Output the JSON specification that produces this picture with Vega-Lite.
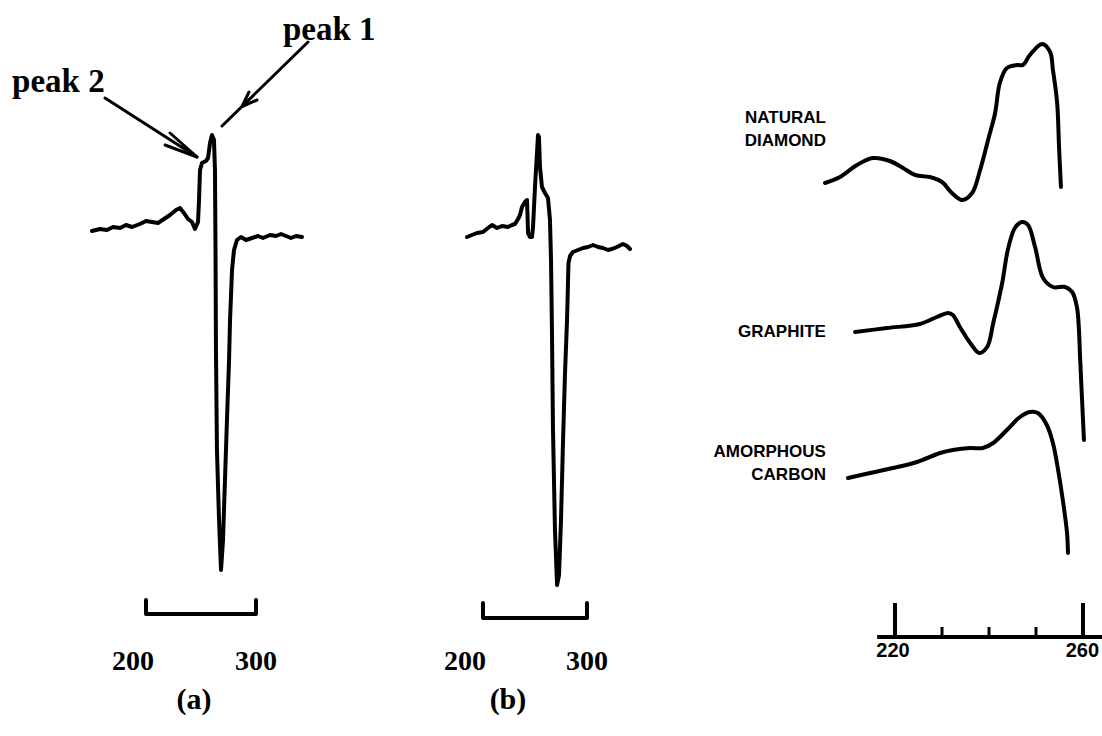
{
  "$schema": "https://vega.github.io/schema/vega-lite/v6.json",
  "padding": 0,
  "spacing": 0,
  "background": "white",
  "config": {"view": {"stroke": null}, "line": {"strokeCap": "round", "strokeJoin": "round"}},
  "datasets": {
    "curveA": [
      {"i":1,"x":150.9,"y":-0.5},{"i":2,"x":158.2,"y":0.5},{"i":3,"x":164.5,"y":0},{"i":4,"x":170.0,"y":1.5},
      {"i":5,"x":176.4,"y":1},{"i":6,"x":181.8,"y":2.5},{"i":7,"x":187.3,"y":1.5},{"i":8,"x":194.5,"y":3},
      {"i":9,"x":200.0,"y":4.5},{"i":10,"x":205.5,"y":4},{"i":11,"x":210.9,"y":3.5},{"i":12,"x":216.4,"y":5.5},
      {"i":13,"x":221.8,"y":7.5},{"i":14,"x":227.3,"y":10},{"i":15,"x":230.9,"y":11},{"i":16,"x":234.5,"y":8.5},
      {"i":17,"x":238.2,"y":5.5},{"i":18,"x":241.8,"y":4},{"i":19,"x":244.5,"y":0.5},{"i":20,"x":247.3,"y":4},
      {"i":21,"x":248.2,"y":15},{"i":22,"x":249.1,"y":30},{"i":23,"x":250.9,"y":33.5},{"i":24,"x":254.5,"y":34.5},
      {"i":25,"x":256.4,"y":36},{"i":26,"x":258.2,"y":43.5},{"i":27,"x":260.0,"y":47.5},{"i":28,"x":261.8,"y":45},
      {"i":29,"x":262.7,"y":30},{"i":30,"x":263.2,"y":-10},{"i":31,"x":263.6,"y":-60},{"i":32,"x":264.5,"y":-110},
      {"i":33,"x":266.4,"y":-145},{"i":34,"x":268.2,"y":-170},{"i":35,"x":270.0,"y":-155},{"i":36,"x":271.8,"y":-125},
      {"i":37,"x":273.6,"y":-95},{"i":38,"x":275.5,"y":-65},{"i":39,"x":276.4,"y":-45},{"i":40,"x":278.2,"y":-20},
      {"i":41,"x":280.0,"y":-10},{"i":42,"x":282.7,"y":-5},{"i":43,"x":286.4,"y":-3.5},{"i":44,"x":290.9,"y":-5},
      {"i":45,"x":296.4,"y":-4},{"i":46,"x":301.8,"y":-3},{"i":47,"x":306.4,"y":-4},{"i":48,"x":312.7,"y":-2.5},
      {"i":49,"x":318.2,"y":-3},{"i":50,"x":322.7,"y":-2},{"i":51,"x":327.3,"y":-3},{"i":52,"x":331.8,"y":-4},
      {"i":53,"x":336.4,"y":-3},{"i":54,"x":341.8,"y":-3.5}
    ],
    "curveB": [
      {"i":1,"x":184.6,"y":-3.5},{"i":2,"x":189.4,"y":-2.5},{"i":3,"x":194.2,"y":-1.5},{"i":4,"x":200,"y":-1},
      {"i":5,"x":204.8,"y":1},{"i":6,"x":208.7,"y":2.5},{"i":7,"x":213.5,"y":1},{"i":8,"x":218.3,"y":2},
      {"i":9,"x":224,"y":1.5},{"i":10,"x":227.9,"y":2.5},{"i":11,"x":230.8,"y":3},{"i":12,"x":233.7,"y":5.5},
      {"i":13,"x":235.6,"y":7.5},{"i":14,"x":237.5,"y":11.5},{"i":15,"x":240.4,"y":14},{"i":16,"x":242.3,"y":15},
      {"i":17,"x":242.8,"y":7.5},{"i":18,"x":243.3,"y":-1.5},{"i":19,"x":245.2,"y":-3.5},{"i":20,"x":247.1,"y":-3.5},
      {"i":21,"x":248.1,"y":1.5},{"i":22,"x":250,"y":21.5},{"i":23,"x":251.9,"y":38.5},{"i":24,"x":252.9,"y":47.5},
      {"i":25,"x":253.8,"y":46.5},{"i":26,"x":254.8,"y":31.5},{"i":27,"x":256.7,"y":21.5},{"i":28,"x":259.6,"y":18.5},
      {"i":29,"x":262.5,"y":16},{"i":30,"x":264.4,"y":5},{"i":31,"x":265.4,"y":-15},{"i":32,"x":266.3,"y":-50},
      {"i":33,"x":267.3,"y":-100},{"i":34,"x":269.2,"y":-150},{"i":35,"x":271.2,"y":-177.5},{"i":36,"x":273.1,"y":-172.5},
      {"i":37,"x":275,"y":-145},{"i":38,"x":276.9,"y":-106.5},{"i":39,"x":278.8,"y":-72.5},{"i":40,"x":280.8,"y":-45},
      {"i":41,"x":282.2,"y":-16.5},{"i":42,"x":283.7,"y":-13},{"i":43,"x":286.5,"y":-11},{"i":44,"x":291.3,"y":-10},
      {"i":45,"x":296.2,"y":-9},{"i":46,"x":301,"y":-8.5},{"i":47,"x":305.8,"y":-7.5},{"i":48,"x":310.6,"y":-8.5},
      {"i":49,"x":315.4,"y":-9},{"i":50,"x":320.2,"y":-10},{"i":51,"x":324,"y":-9.5},{"i":52,"x":328.8,"y":-8.5},
      {"i":53,"x":334.6,"y":-7},{"i":54,"x":338.5,"y":-8},{"i":55,"x":341.3,"y":-9.5}
    ],
    "curvesC": [
      {"s":"NATURAL DIAMOND","i":1,"x":205.1,"y":113.5},{"s":"NATURAL DIAMOND","i":2,"x":208.3,"y":115},
      {"s":"NATURAL DIAMOND","i":3,"x":211.9,"y":118},{"s":"NATURAL DIAMOND","i":4,"x":215.3,"y":119.75},
      {"s":"NATURAL DIAMOND","i":5,"x":218.9,"y":119},{"s":"NATURAL DIAMOND","i":6,"x":221.7,"y":117.25},
      {"s":"NATURAL DIAMOND","i":7,"x":224.3,"y":115.5},{"s":"NATURAL DIAMOND","i":8,"x":227.4,"y":115},
      {"s":"NATURAL DIAMOND","i":9,"x":230.0,"y":113.75},{"s":"NATURAL DIAMOND","i":10,"x":232.1,"y":111},
      {"s":"NATURAL DIAMOND","i":11,"x":234.3,"y":109.25},{"s":"NATURAL DIAMOND","i":12,"x":236.4,"y":111},
      {"s":"NATURAL DIAMOND","i":13,"x":238.1,"y":116.75},{"s":"NATURAL DIAMOND","i":14,"x":239.8,"y":124.25},
      {"s":"NATURAL DIAMOND","i":15,"x":241.3,"y":131},{"s":"NATURAL DIAMOND","i":16,"x":242.3,"y":138.5},
      {"s":"NATURAL DIAMOND","i":17,"x":243.8,"y":142.25},{"s":"NATURAL DIAMOND","i":18,"x":246.0,"y":143},
      {"s":"NATURAL DIAMOND","i":19,"x":247.2,"y":143},{"s":"NATURAL DIAMOND","i":20,"x":248.7,"y":145.5},
      {"s":"NATURAL DIAMOND","i":21,"x":251.3,"y":148.25},{"s":"NATURAL DIAMOND","i":22,"x":253.0,"y":146.25},
      {"s":"NATURAL DIAMOND","i":23,"x":253.6,"y":141.75},{"s":"NATURAL DIAMOND","i":24,"x":254.5,"y":133.5},
      {"s":"NATURAL DIAMOND","i":25,"x":254.9,"y":122.5},{"s":"NATURAL DIAMOND","i":26,"x":255.3,"y":112.5},
      {"s":"GRAPHITE","i":1,"x":211.5,"y":76.25},{"s":"GRAPHITE","i":2,"x":218.3,"y":77.25},
      {"s":"GRAPHITE","i":3,"x":225.3,"y":78.25},{"s":"GRAPHITE","i":4,"x":228.9,"y":80},
      {"s":"GRAPHITE","i":5,"x":231.3,"y":81},{"s":"GRAPHITE","i":6,"x":232.3,"y":80.5},
      {"s":"GRAPHITE","i":7,"x":233.8,"y":77.5},{"s":"GRAPHITE","i":8,"x":236.0,"y":73.5},
      {"s":"GRAPHITE","i":9,"x":237.9,"y":71},{"s":"GRAPHITE","i":10,"x":239.6,"y":72.5},
      {"s":"GRAPHITE","i":11,"x":240.9,"y":78.5},{"s":"GRAPHITE","i":12,"x":242.8,"y":88.5},
      {"s":"GRAPHITE","i":13,"x":244.0,"y":96.75},{"s":"GRAPHITE","i":14,"x":245.5,"y":102.25},
      {"s":"GRAPHITE","i":15,"x":247.0,"y":103.75},{"s":"GRAPHITE","i":16,"x":248.3,"y":103},
      {"s":"GRAPHITE","i":17,"x":249.8,"y":97.5},{"s":"GRAPHITE","i":18,"x":251.5,"y":89.75},
      {"s":"GRAPHITE","i":19,"x":253.6,"y":87.5},{"s":"GRAPHITE","i":20,"x":256.2,"y":87.5},
      {"s":"GRAPHITE","i":21,"x":257.7,"y":86.25},{"s":"GRAPHITE","i":22,"x":258.7,"y":82.5},
      {"s":"GRAPHITE","i":23,"x":259.1,"y":77.5},{"s":"GRAPHITE","i":24,"x":259.4,"y":69.25},
      {"s":"GRAPHITE","i":25,"x":259.8,"y":59.25},{"s":"GRAPHITE","i":26,"x":260.2,"y":49.25},
      {"s":"AMORPHOUS CARBON","i":1,"x":210.0,"y":39.75},{"s":"AMORPHOUS CARBON","i":2,"x":214.7,"y":41},
      {"s":"AMORPHOUS CARBON","i":3,"x":219.6,"y":42.25},{"s":"AMORPHOUS CARBON","i":4,"x":224.7,"y":43.75},
      {"s":"AMORPHOUS CARBON","i":5,"x":229.6,"y":46},{"s":"AMORPHOUS CARBON","i":6,"x":232.3,"y":46.75},
      {"s":"AMORPHOUS CARBON","i":7,"x":236.0,"y":47.25},{"s":"AMORPHOUS CARBON","i":8,"x":238.7,"y":47.25},
      {"s":"AMORPHOUS CARBON","i":9,"x":240.9,"y":48.5},{"s":"AMORPHOUS CARBON","i":10,"x":243.8,"y":51.75},
      {"s":"AMORPHOUS CARBON","i":11,"x":246.6,"y":55},{"s":"AMORPHOUS CARBON","i":12,"x":248.7,"y":56.25},
      {"s":"AMORPHOUS CARBON","i":13,"x":250.4,"y":56},{"s":"AMORPHOUS CARBON","i":14,"x":252.3,"y":53},
      {"s":"AMORPHOUS CARBON","i":15,"x":253.6,"y":48.5},{"s":"AMORPHOUS CARBON","i":16,"x":254.7,"y":41.75},
      {"s":"AMORPHOUS CARBON","i":17,"x":255.7,"y":34.25},{"s":"AMORPHOUS CARBON","i":18,"x":256.6,"y":26},
      {"s":"AMORPHOUS CARBON","i":19,"x":256.8,"y":21}
    ]
  },
  "hconcat": [
    {
      "width": 400, "height": 736,
      "layer": [
        {
          "data": {"name": "curveA"},
          "mark": {"type": "line", "color": "black", "strokeWidth": 4},
          "encoding": {
            "x": {"field": "x", "type": "quantitative", "scale": {"domain": [67.27, 430.91], "nice": false, "zero": false}, "axis": null},
            "y": {"field": "y", "type": "quantitative", "scale": {"domain": [-253, 115], "nice": false, "zero": false}, "axis": null},
            "order": {"field": "i"}
          }
        },
        {
          "data": {"values": [
            {"seg":"p2","i":1,"x":162.7,"y":66},{"seg":"p2","i":2,"x":246.4,"y":36.5},
            {"seg":"p2h","i":1,"x":221.8,"y":48.5},{"seg":"p2h","i":2,"x":246.4,"y":36.5},{"seg":"p2h","i":3,"x":217.3,"y":42.5},
            {"seg":"p1","i":1,"x":347.3,"y":94},{"seg":"p1","i":2,"x":269.1,"y":52},
            {"seg":"p1h","i":1,"x":300.9,"y":65},{"seg":"p1h","i":2,"x":287.3,"y":61.75},{"seg":"p1h","i":3,"x":293.6,"y":69}
          ]},
          "mark": {"type": "line", "color": "black", "strokeWidth": 3},
          "encoding": {
            "x": {"field": "x", "type": "quantitative", "scale": {"domain": [67.27, 430.91], "nice": false, "zero": false}, "axis": null},
            "y": {"field": "y", "type": "quantitative", "scale": {"domain": [-253, 115], "nice": false, "zero": false}, "axis": null},
            "detail": {"field": "seg"},
            "order": {"field": "i"}
          }
        },
        {
          "data": {"values": [{"i":1,"x":200,"y":-185},{"i":2,"x":200,"y":-192},{"i":3,"x":300,"y":-192},{"i":4,"x":300,"y":-185}]},
          "mark": {"type": "line", "color": "black", "strokeWidth": 4},
          "encoding": {
            "x": {"field": "x", "type": "quantitative", "scale": {"domain": [67.27, 430.91], "nice": false, "zero": false}, "axis": null},
            "y": {"field": "y", "type": "quantitative", "scale": {"domain": [-253, 115], "nice": false, "zero": false}, "axis": null},
            "order": {"field": "i"}
          }
        },
        {
          "data": {"values": [{"t":"peak 2","x":78.2,"y":69},{"t":"peak 1","x":324.5,"y":95}]},
          "mark": {"type": "text", "font": "Liberation Serif", "fontWeight": "bold", "fontSize": 33, "align": "left", "baseline": "alphabetic", "color": "black"},
          "encoding": {
            "x": {"field": "x", "type": "quantitative", "scale": {"domain": [67.27, 430.91], "nice": false, "zero": false}, "axis": null},
            "y": {"field": "y", "type": "quantitative", "scale": {"domain": [-253, 115], "nice": false, "zero": false}, "axis": null},
            "text": {"field": "t"}
          }
        },
        {
          "data": {"values": [{"v":200}]},
          "mark": {"type": "text", "font": "Liberation Serif", "fontWeight": "bold", "fontSize": 28, "align": "center", "baseline": "middle", "dx": -13, "color": "black"},
          "encoding": {
            "x": {"field": "v", "type": "quantitative", "scale": {"domain": [67.27, 430.91], "nice": false, "zero": false}, "axis": null},
            "y": {"datum": -216, "type": "quantitative", "scale": {"domain": [-253, 115], "nice": false, "zero": false}, "axis": null},
            "text": {"field": "v", "type": "quantitative", "format": "d"}
          }
        },
        {
          "data": {"values": [{"v":300}]},
          "mark": {"type": "text", "font": "Liberation Serif", "fontWeight": "bold", "fontSize": 28, "align": "center", "baseline": "middle", "color": "black"},
          "encoding": {
            "x": {"field": "v", "type": "quantitative", "scale": {"domain": [67.27, 430.91], "nice": false, "zero": false}, "axis": null},
            "y": {"datum": -216, "type": "quantitative", "scale": {"domain": [-253, 115], "nice": false, "zero": false}, "axis": null},
            "text": {"field": "v", "type": "quantitative", "format": "d"}
          }
        },
        {
          "data": {"values": [{"t":"(a)","x":243.6,"y":-235}]},
          "mark": {"type": "text", "font": "Liberation Serif", "fontWeight": "bold", "fontSize": 30, "align": "center", "baseline": "middle", "color": "black"},
          "encoding": {
            "x": {"field": "x", "type": "quantitative", "scale": {"domain": [67.27, 430.91], "nice": false, "zero": false}, "axis": null},
            "y": {"field": "y", "type": "quantitative", "scale": {"domain": [-253, 115], "nice": false, "zero": false}, "axis": null},
            "text": {"field": "t"}
          }
        }
      ]
    },
    {
      "width": 290, "height": 736,
      "layer": [
        {
          "data": {"name": "curveB"},
          "mark": {"type": "line", "color": "black", "strokeWidth": 4},
          "encoding": {
            "x": {"field": "x", "type": "quantitative", "scale": {"domain": [120.19, 399.04], "nice": false, "zero": false}, "axis": null},
            "y": {"field": "y", "type": "quantitative", "scale": {"domain": [-253, 115], "nice": false, "zero": false}, "axis": null},
            "order": {"field": "i"}
          }
        },
        {
          "data": {"values": [{"i":1,"x":200,"y":-186.5},{"i":2,"x":200,"y":-194},{"i":3,"x":300,"y":-194},{"i":4,"x":300,"y":-186.5}]},
          "mark": {"type": "line", "color": "black", "strokeWidth": 4},
          "encoding": {
            "x": {"field": "x", "type": "quantitative", "scale": {"domain": [120.19, 399.04], "nice": false, "zero": false}, "axis": null},
            "y": {"field": "y", "type": "quantitative", "scale": {"domain": [-253, 115], "nice": false, "zero": false}, "axis": null},
            "order": {"field": "i"}
          }
        },
        {
          "data": {"values": [{"v":200}]},
          "mark": {"type": "text", "font": "Liberation Serif", "fontWeight": "bold", "fontSize": 28, "align": "center", "baseline": "middle", "dx": -18, "color": "black"},
          "encoding": {
            "x": {"field": "v", "type": "quantitative", "scale": {"domain": [120.19, 399.04], "nice": false, "zero": false}, "axis": null},
            "y": {"datum": -216, "type": "quantitative", "scale": {"domain": [-253, 115], "nice": false, "zero": false}, "axis": null},
            "text": {"field": "v", "type": "quantitative", "format": "d"}
          }
        },
        {
          "data": {"values": [{"v":300}]},
          "mark": {"type": "text", "font": "Liberation Serif", "fontWeight": "bold", "fontSize": 28, "align": "center", "baseline": "middle", "color": "black"},
          "encoding": {
            "x": {"field": "v", "type": "quantitative", "scale": {"domain": [120.19, 399.04], "nice": false, "zero": false}, "axis": null},
            "y": {"datum": -216, "type": "quantitative", "scale": {"domain": [-253, 115], "nice": false, "zero": false}, "axis": null},
            "text": {"field": "v", "type": "quantitative", "format": "d"}
          }
        },
        {
          "data": {"values": [{"t":"(b)","x":224,"y":-235}]},
          "mark": {"type": "text", "font": "Liberation Serif", "fontWeight": "bold", "fontSize": 30, "align": "center", "baseline": "middle", "color": "black"},
          "encoding": {
            "x": {"field": "x", "type": "quantitative", "scale": {"domain": [120.19, 399.04], "nice": false, "zero": false}, "axis": null},
            "y": {"field": "y", "type": "quantitative", "scale": {"domain": [-253, 115], "nice": false, "zero": false}, "axis": null},
            "text": {"field": "t"}
          }
        }
      ]
    },
    {
      "width": 412, "height": 736,
      "layer": [
        {
          "data": {"name": "curvesC"},
          "mark": {"type": "line", "color": "black", "strokeWidth": 4, "interpolate": "catmull-rom"},
          "encoding": {
            "x": {"field": "x", "type": "quantitative", "scale": {"domain": [176.38, 264.04], "nice": false, "zero": false}, "axis": null},
            "y": {"field": "y", "type": "quantitative", "scale": {"domain": [-24.75, 159.25], "nice": false, "zero": false}, "axis": null},
            "detail": {"field": "s"},
            "order": {"field": "i"}
          }
        },
        {
          "data": {"values": [{"t":"NATURAL\nDIAMOND","y":128.5},{"t":"GRAPHITE","y":75},{"t":"AMORPHOUS\nCARBON","y":45}]},
          "mark": {"type": "text", "font": "Liberation Sans Narrow, Liberation Sans", "fontWeight": "bold", "fontSize": 17, "align": "right", "baseline": "alphabetic", "lineBreak": "\n", "lineHeight": 23, "color": "black"},
          "encoding": {
            "x": {"datum": 205.3, "type": "quantitative", "scale": {"domain": [176.38, 264.04], "nice": false, "zero": false}, "axis": null},
            "y": {"field": "y", "type": "quantitative", "scale": {"domain": [-24.75, 159.25], "nice": false, "zero": false}, "axis": null},
            "text": {"field": "t"}
          }
        },
        {
          "data": {"values": [{}]},
          "mark": {"type": "rule", "color": "black", "strokeWidth": 4},
          "encoding": {
            "x": {"datum": 216.2, "type": "quantitative", "scale": {"domain": [176.38, 264.04], "nice": false, "zero": false}, "axis": null},
            "x2": {"datum": 264.04},
            "y": {"datum": 0, "type": "quantitative", "scale": {"domain": [-24.75, 159.25], "nice": false, "zero": false}, "axis": null}
          }
        },
        {
          "data": {"values": [{"v":220},{"v":260}]},
          "mark": {"type": "rule", "color": "black", "strokeWidth": 4},
          "encoding": {
            "x": {"field": "v", "type": "quantitative", "scale": {"domain": [176.38, 264.04], "nice": false, "zero": false}, "axis": null},
            "y": {"datum": 0, "type": "quantitative", "scale": {"domain": [-24.75, 159.25], "nice": false, "zero": false}, "axis": null},
            "y2": {"datum": 8.5}
          }
        },
        {
          "data": {"values": [{"v":230},{"v":240},{"v":250}]},
          "mark": {"type": "rule", "color": "black", "strokeWidth": 3},
          "encoding": {
            "x": {"field": "v", "type": "quantitative", "scale": {"domain": [176.38, 264.04], "nice": false, "zero": false}, "axis": null},
            "y": {"datum": 0, "type": "quantitative", "scale": {"domain": [-24.75, 159.25], "nice": false, "zero": false}, "axis": null},
            "y2": {"datum": 2.5}
          }
        },
        {
          "data": {"values": [{"v":220}]},
          "mark": {"type": "text", "font": "Liberation Sans Narrow, Liberation Sans", "fontWeight": "bold", "fontSize": 20, "align": "center", "baseline": "middle", "dx": -2, "color": "black"},
          "encoding": {
            "x": {"field": "v", "type": "quantitative", "scale": {"domain": [176.38, 264.04], "nice": false, "zero": false}, "axis": null},
            "y": {"datum": -3.5, "type": "quantitative", "scale": {"domain": [-24.75, 159.25], "nice": false, "zero": false}, "axis": null},
            "text": {"field": "v", "type": "quantitative", "format": "d"}
          }
        },
        {
          "data": {"values": [{"v":260}]},
          "mark": {"type": "text", "font": "Liberation Sans Narrow, Liberation Sans", "fontWeight": "bold", "fontSize": 20, "align": "right", "baseline": "middle", "dx": 16, "color": "black"},
          "encoding": {
            "x": {"field": "v", "type": "quantitative", "scale": {"domain": [176.38, 264.04], "nice": false, "zero": false}, "axis": null},
            "y": {"datum": -3.5, "type": "quantitative", "scale": {"domain": [-24.75, 159.25], "nice": false, "zero": false}, "axis": null},
            "text": {"field": "v", "type": "quantitative", "format": "d"}
          }
        }
      ]
    }
  ]
}
